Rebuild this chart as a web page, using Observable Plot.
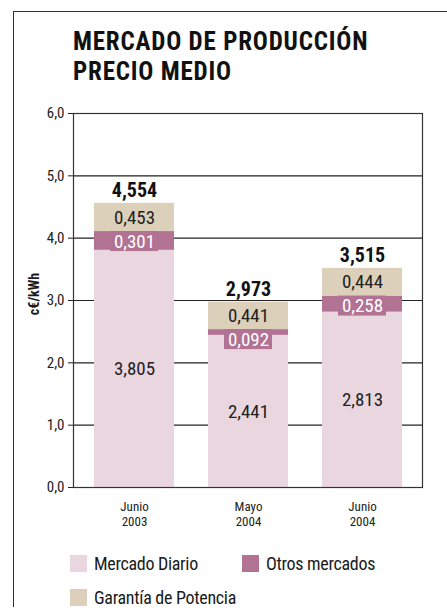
<!DOCTYPE html>
<html>
<head>
<meta charset="utf-8">
<script src="https://cdn.jsdelivr.net/npm/d3@7"></script>
<script src="https://cdn.jsdelivr.net/npm/@observablehq/plot@0.6"></script>
<style>
  html, body { margin: 0; padding: 0; background: #fff; }
  body { width: 447px; height: 615px; position: relative; overflow: hidden;
         font-family: "Liberation Sans Narrow", "Roboto Condensed", "DejaVu Sans Condensed", sans-serif; color: #1a1a1a; }
  #frame { position: absolute; left: 13px; top: 11px; width: 440px; height: 595px;
           border-left: 1.5px solid #333; border-top: 1.5px solid #333; }
  #title { position: absolute; left: 73px; top: 27px; font-weight: bold; font-size: 25px; line-height: 29.5px; letter-spacing: 0.8px; color: #111; }
  #chart { position: absolute; left: 0; top: 0; }
  #ylabel { position: absolute; left: 34px; top: 294px; transform: translate(-50%, -50%) rotate(-90deg);
            font-weight: bold; font-size: 14px; white-space: nowrap; }
  .leg { position: absolute; font-size: 18px; letter-spacing: -0.3px; white-space: nowrap; display: flex; align-items: center; }
  .sw { width: 17px; height: 17px; margin-right: 7px; display: inline-block; }
</style>
</head>
<body>
<div id="frame"></div>
<div id="title">MERCADO DE PRODUCCIÓN<br>PRECIO MEDIO</div>
<div id="chart"></div>
<div id="ylabel">c€/kWh</div>
<div id="legend"></div>
<script>
const periods = ["Junio 2003", "Mayo 2004", "Junio 2004"];
const seriesNames = ["Mercado Diario", "Otros mercados", "Garantía de Potencia"];
const diario = [3.805, 2.441, 2.813];
const otros = [0.301, 0.092, 0.258];
const garantia = [0.453, 0.441, 0.444];
const totals = [4.554, 2.973, 3.515];
const yTicks = [0, 1, 2, 3, 4, 5, 6];
const colors = ["#e9d6df", "#b27294", "#dcd0bb"];

const locale = d3.formatLocale({decimal: ",", thousands: ".", grouping: [3], currency: ["", "€"]});
const f3 = locale.format(".3f");
const f1 = locale.format(".1f");

const rows = [];
periods.forEach((p, i) => {
  rows.push({period: p, serie: seriesNames[0], value: diario[i]});
  rows.push({period: p, serie: seriesNames[1], value: otros[i]});
  rows.push({period: p, serie: seriesNames[2], value: garantia[i]});
});
const otrosRows = periods.map((p, i) => ({period: p, top: diario[i] + otros[i], value: otros[i]}));
const totalRows = periods.map((p, i) => ({period: p, top: diario[i] + otros[i] + garantia[i], value: totals[i]}));

const font = '"Liberation Sans Narrow", "Roboto Condensed", "DejaVu Sans Condensed", sans-serif';

const chart = Plot.plot({
  width: 447,
  height: 545,
  marginLeft: 73,
  marginRight: 25,
  marginTop: 113,
  marginBottom: 58,
  style: {fontFamily: font, fontSize: "14px", color: "#222", background: "transparent", overflow: "visible"},
  x: {domain: periods, paddingInner: 0.3, paddingOuter: 0.18, label: null},
  y: {domain: [0, 6], label: null},
  color: {domain: seriesNames, range: colors},
  marks: [
    Plot.gridY(yTicks, {stroke: "#222", strokeOpacity: 1, strokeWidth: 1.2}),
    Plot.barY(rows, Plot.stackY({x: "period", y: "value", fill: "serie", order: null})),
    Plot.barY(otrosRows, {x: "period", y1: "top", y2: "top", fill: colors[1], insetLeft: 16, insetRight: 16, insetTop: 0, insetBottom: -20}),
    Plot.text(rows, Plot.stackY({x: "period", y: "value", order: null, text: d => d.serie === seriesNames[1] ? "" : f3(d.value),
      fontSize: 19, fill: "#222"})),
    Plot.text(otrosRows, {x: "period", y: "top", text: d => f3(d.value), dy: 10, fontSize: 19, fill: "white"}),
    Plot.text(totalRows, {x: "period", y: "top", text: d => f3(d.value), dy: -13, fontSize: 20, fontWeight: "bold", fill: "#111"}),
    Plot.ruleY([0], {stroke: "#222", strokeWidth: 1.2}),
    Plot.frame({stroke: "#333", strokeWidth: 1.2}),
    Plot.axisY({ticks: yTicks, tickFormat: f1, tickSize: 5, tickPadding: 4, fontSize: 15, label: null}),
    Plot.axisX({tickSize: 0, tickPadding: 12, fontSize: 13, lineHeight: 1.2, label: null,
      tickFormat: d => d.replace(" ", "\n")})
  ]
});
document.getElementById("chart").appendChild(chart);

const legendItems = [
  {name: seriesNames[0], color: colors[0], left: 70, top: 553},
  {name: seriesNames[1], color: colors[1], left: 242, top: 553},
  {name: seriesNames[2], color: colors[2], left: 70, top: 587}
];
const leg = document.getElementById("legend");
legendItems.forEach(it => {
  const d = document.createElement("div");
  d.className = "leg";
  d.style.left = it.left + "px";
  d.style.top = it.top + "px";
  const s = document.createElement("span");
  s.className = "sw";
  s.style.background = it.color;
  d.appendChild(s);
  d.appendChild(document.createTextNode(it.name));
  leg.appendChild(d);
});
</script>
</body>
</html>
